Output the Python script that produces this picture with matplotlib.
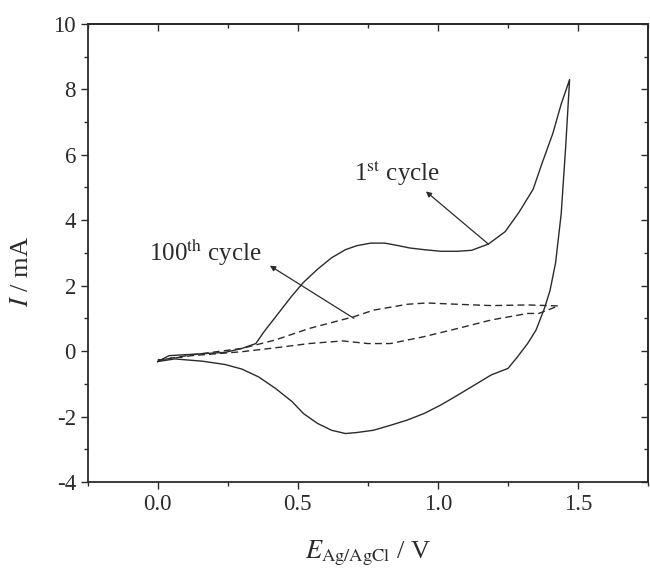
import matplotlib.pyplot as plt
from matplotlib.ticker import MultipleLocator

plt.rcParams['font.family'] = ['Liberation Serif', 'DejaVu Serif']
plt.rcParams['mathtext.fontset'] = 'stix'

# 1st cycle, anodic sweep (E / V, I / mA)
e1_fwd = [0.0, 0.04, 0.12, 0.24, 0.30, 0.35, 0.38, 0.43, 0.48, 0.52, 0.57, 0.62,
          0.67, 0.71, 0.76, 0.81, 0.86, 0.90, 0.95, 1.01, 1.07, 1.12, 1.18, 1.24,
          1.29, 1.34, 1.37, 1.41, 1.44, 1.47]
i1_fwd = [-0.32, -0.14, -0.10, -0.04, 0.08, 0.23, 0.60, 1.15, 1.70, 2.10, 2.50, 2.85,
          3.10, 3.22, 3.30, 3.30, 3.22, 3.15, 3.10, 3.05, 3.05, 3.08, 3.27, 3.65,
          4.25, 4.95, 5.70, 6.65, 7.55, 8.30]
# 1st cycle, cathodic sweep
e1_rev = [1.47, 1.456, 1.44, 1.42, 1.40, 1.38, 1.35, 1.32, 1.28, 1.25, 1.19, 1.13,
          1.07, 1.01, 0.95, 0.89, 0.83, 0.77, 0.71, 0.67, 0.62, 0.57, 0.52, 0.48,
          0.42, 0.36, 0.30, 0.24, 0.16, 0.06, 0.0]
i1_rev = [8.30, 6.25, 4.20, 2.70, 1.85, 1.30, 0.64, 0.23, -0.22, -0.53, -0.73, -1.04,
          -1.35, -1.65, -1.91, -2.11, -2.27, -2.42, -2.49, -2.52, -2.42, -2.21, -1.91, -1.55,
          -1.14, -0.79, -0.55, -0.41, -0.31, -0.24, -0.32]

# 100th cycle
e100_fwd = [0.0, 0.12, 0.30, 0.42, 0.54, 0.70, 0.77, 0.89, 0.96, 1.07, 1.19, 1.32, 1.43]
i100_fwd = [-0.28, -0.12, 0.08, 0.34, 0.69, 1.05, 1.25, 1.43, 1.47, 1.43, 1.39, 1.41, 1.38]
e100_rev = [1.43, 1.36, 1.32, 1.19, 1.07, 0.95, 0.83, 0.75, 0.66, 0.54, 0.42, 0.30, 0.12, 0.0]
i100_rev = [1.38, 1.15, 1.15, 0.95, 0.69, 0.44, 0.23, 0.23, 0.31, 0.23, 0.10, -0.02, -0.14, -0.28]

col = '#2b2b2b'

fig = plt.figure(figsize=(6.5, 5.69), dpi=100)
ax = fig.add_axes([0.135, 0.153, 0.862, 0.805])

ax.plot(e1_fwd + e1_rev[1:], i1_fwd + i1_rev[1:], color=col, lw=1.0)
ax.plot(e100_fwd + e100_rev[1:], i100_fwd + i100_rev[1:], color=col, lw=1.0,
        dashes=(5, 3))

ax.set_xlim(-0.25, 1.75)
ax.set_ylim(-4, 10)

ax.xaxis.set_major_locator(MultipleLocator(0.5))
ax.xaxis.set_minor_locator(MultipleLocator(0.25))
ax.yaxis.set_major_locator(MultipleLocator(2))
ax.yaxis.set_minor_locator(MultipleLocator(1))
ax.xaxis.set_major_formatter(plt.FuncFormatter(lambda v, p: f'{v:.1f}'))
ax.yaxis.set_major_formatter(plt.FuncFormatter(lambda v, p: f'{v:.0f}'))

ax.tick_params(which='both', direction='out', colors=col, labelsize=16.5, width=1.0)
ax.tick_params(which='major', length=5)
ax.tick_params(which='minor', length=3)

# mirrored ticks pointing inwards on top / right
top = ax.secondary_xaxis('top')
right = ax.secondary_yaxis('right')
top.xaxis.set_major_locator(MultipleLocator(0.5))
top.xaxis.set_minor_locator(MultipleLocator(0.25))
right.yaxis.set_major_locator(MultipleLocator(2))
right.yaxis.set_minor_locator(MultipleLocator(1))
for sec in (top, right):
    sec.tick_params(which='both', direction='in', labeltop=False, labelright=False,
                    colors=col, width=1.0)
    sec.tick_params(which='major', length=5)
    sec.tick_params(which='minor', length=3)
    for s in sec.spines.values():
        s.set_linewidth(1.3)
        s.set_color(col)

for s in ax.spines.values():
    s.set_linewidth(1.3)
    s.set_color(col)

ax.set_ylabel(r'$I$ / mA', fontsize=19, color=col)
ax.yaxis.set_label_coords(-0.098, 0.46)
ax.set_xlabel(r'$E_{\mathrm{Ag/AgCl}}$ / V', fontsize=19, color=col)
ax.xaxis.set_label_coords(0.5, -0.124)

ax.annotate(r'1$^{\mathrm{st}}$ cycle', xy=(0.957, 4.88), xytext=(0.855, 5.45),
            ha='center', va='center', fontsize=18, color=col)
ax.annotate('', xy=(0.957, 4.88), xytext=(1.18, 3.27),
            arrowprops=dict(arrowstyle='-|>', color=col, lw=0.9,
                            mutation_scale=8, shrinkA=0, shrinkB=0))
ax.annotate(r'100$^{\mathrm{th}}$ cycle', xy=(0.40, 2.61), xytext=(0.17, 3.0),
            ha='center', va='center', fontsize=18, color=col)
ax.annotate('', xy=(0.40, 2.61), xytext=(0.70, 1.0),
            arrowprops=dict(arrowstyle='-|>', color=col, lw=0.9,
                            mutation_scale=8, shrinkA=0, shrinkB=0))

fig.savefig('out.png', dpi=100)
